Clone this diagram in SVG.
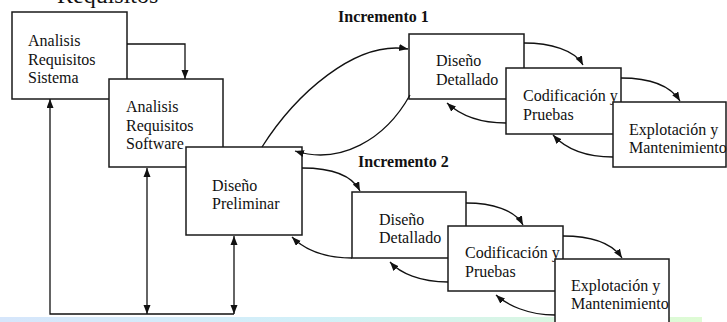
<svg xmlns="http://www.w3.org/2000/svg" width="727" height="322" viewBox="0 0 727 322">
<style>
.box{fill:#fff;stroke:#1a1a1a;stroke-width:1.5}
.t{font-family:"Liberation Serif","Times New Roman",serif;font-size:16px;fill:#111}
.h{font-family:"Liberation Serif","Times New Roman",serif;font-size:16px;font-weight:bold;fill:#111}
.c{fill:none;stroke:#111;stroke-width:1.3}
</style>
<defs>
<marker id="ah" markerUnits="userSpaceOnUse" markerWidth="10" markerHeight="8" refX="9" refY="3.5" orient="auto"><path d="M0,0 L9,3.5 L0,7 z" fill="#111"/></marker>
<marker id="as" markerUnits="userSpaceOnUse" markerWidth="10" markerHeight="8" refX="0" refY="3.5" orient="auto"><path d="M9,0 L0,3.5 L9,7 z" fill="#111"/></marker>
<linearGradient id="band" x1="0" y1="0" x2="1" y2="0">
<stop offset="0" stop-color="#d6e6fb"/>
<stop offset="0.45" stop-color="#d2f0f8"/>
<stop offset="1" stop-color="#defbd4"/>
</linearGradient>
</defs>
<rect x="0" y="317" width="702" height="5" fill="url(#band)"/>
<text class="t" x="57" y="3" style="font-size:24px">Requisitos</text>
<text class="h" x="338" y="22">Incremento 1</text>
<text class="h" x="358" y="167">Incremento 2</text>
<g id="n1"><rect class="box" x="12" y="12" width="115" height="87"/><text class="t" x="28" y="46">Analisis</text><text class="t" x="28" y="64.5">Requisitos</text><text class="t" x="28" y="83">Sistema</text></g>
<g id="n2"><rect class="box" x="109" y="79" width="114" height="88"/><text class="t" x="126" y="112">Analisis</text><text class="t" x="126" y="130.5">Requisitos</text><text class="t" x="126" y="149">Software</text></g>
<g id="n3"><rect class="box" x="186" y="147" width="116" height="88"/><text class="t" x="212" y="191">Diseño</text><text class="t" x="212" y="209">Preliminar</text></g>
<g id="n4"><rect class="box" x="409" y="34" width="115" height="65"/><text class="t" x="436" y="66">Diseño</text><text class="t" x="436" y="85">Detallado</text></g>
<g id="n5"><rect class="box" x="506" y="68" width="115" height="66"/><text class="t" x="523" y="101">Codificación y</text><text class="t" x="523" y="120">Pruebas</text></g>
<g id="n6"><rect class="box" x="613" y="102" width="113" height="65"/><text class="t" x="629" y="135">Explotación y</text><text class="t" x="629" y="153">Mantenimiento</text></g>
<g id="n7"><rect class="box" x="352" y="192" width="114" height="66"/><text class="t" x="379" y="225">Diseño</text><text class="t" x="379" y="243">Detallado</text></g>
<g id="n8"><rect class="box" x="448" y="226" width="115" height="65"/><text class="t" x="465" y="258">Codificación y</text><text class="t" x="465" y="277">Pruebas</text></g>
<g id="n9"><rect class="box" x="555" y="259" width="114" height="75"/><text class="t" x="571" y="291">Explotación y</text><text class="t" x="571" y="309">Mantenimiento</text></g>
<g id="connectors">
<path class="c" d="M127,44 H185 V79" marker-end="url(#ah)"/>
<path class="c" d="M234,314 H50 V99" marker-end="url(#ah)"/>
<path class="c" d="M147,168 V314" marker-start="url(#as)" marker-end="url(#ah)"/>
<path class="c" d="M234,236 V314" marker-start="url(#as)" marker-end="url(#ah)"/>
<path class="c" d="M262,147 C295,95 355,40 408,49" marker-end="url(#ah)"/>
<path class="c" d="M410,95 C385,140 340,165 295,151" marker-end="url(#ah)"/>
<path class="c" d="M524,43 C550,43 575,50 583,65" marker-end="url(#ah)"/>
<path class="c" d="M621,78 C648,78 670,85 680,101" marker-end="url(#ah)"/>
<path class="c" d="M506,123 C480,123 460,115 447,103" marker-end="url(#ah)"/>
<path class="c" d="M613,157 C585,157 565,148 553,135" marker-end="url(#ah)"/>
<path class="c" d="M302,168 C330,168 352,175 360,191" marker-end="url(#ah)"/>
<path class="c" d="M352,258 C325,258 305,250 292,237" marker-end="url(#ah)"/>
<path class="c" d="M466,203 C492,203 515,210 523,225" marker-end="url(#ah)"/>
<path class="c" d="M563,236 C590,236 612,243 622,258" marker-end="url(#ah)"/>
<path class="c" d="M448,282 C420,282 400,273 390,262" marker-end="url(#ah)"/>
<path class="c" d="M555,315 C528,315 507,305 496,295" marker-end="url(#ah)"/>
</g>
</svg>
